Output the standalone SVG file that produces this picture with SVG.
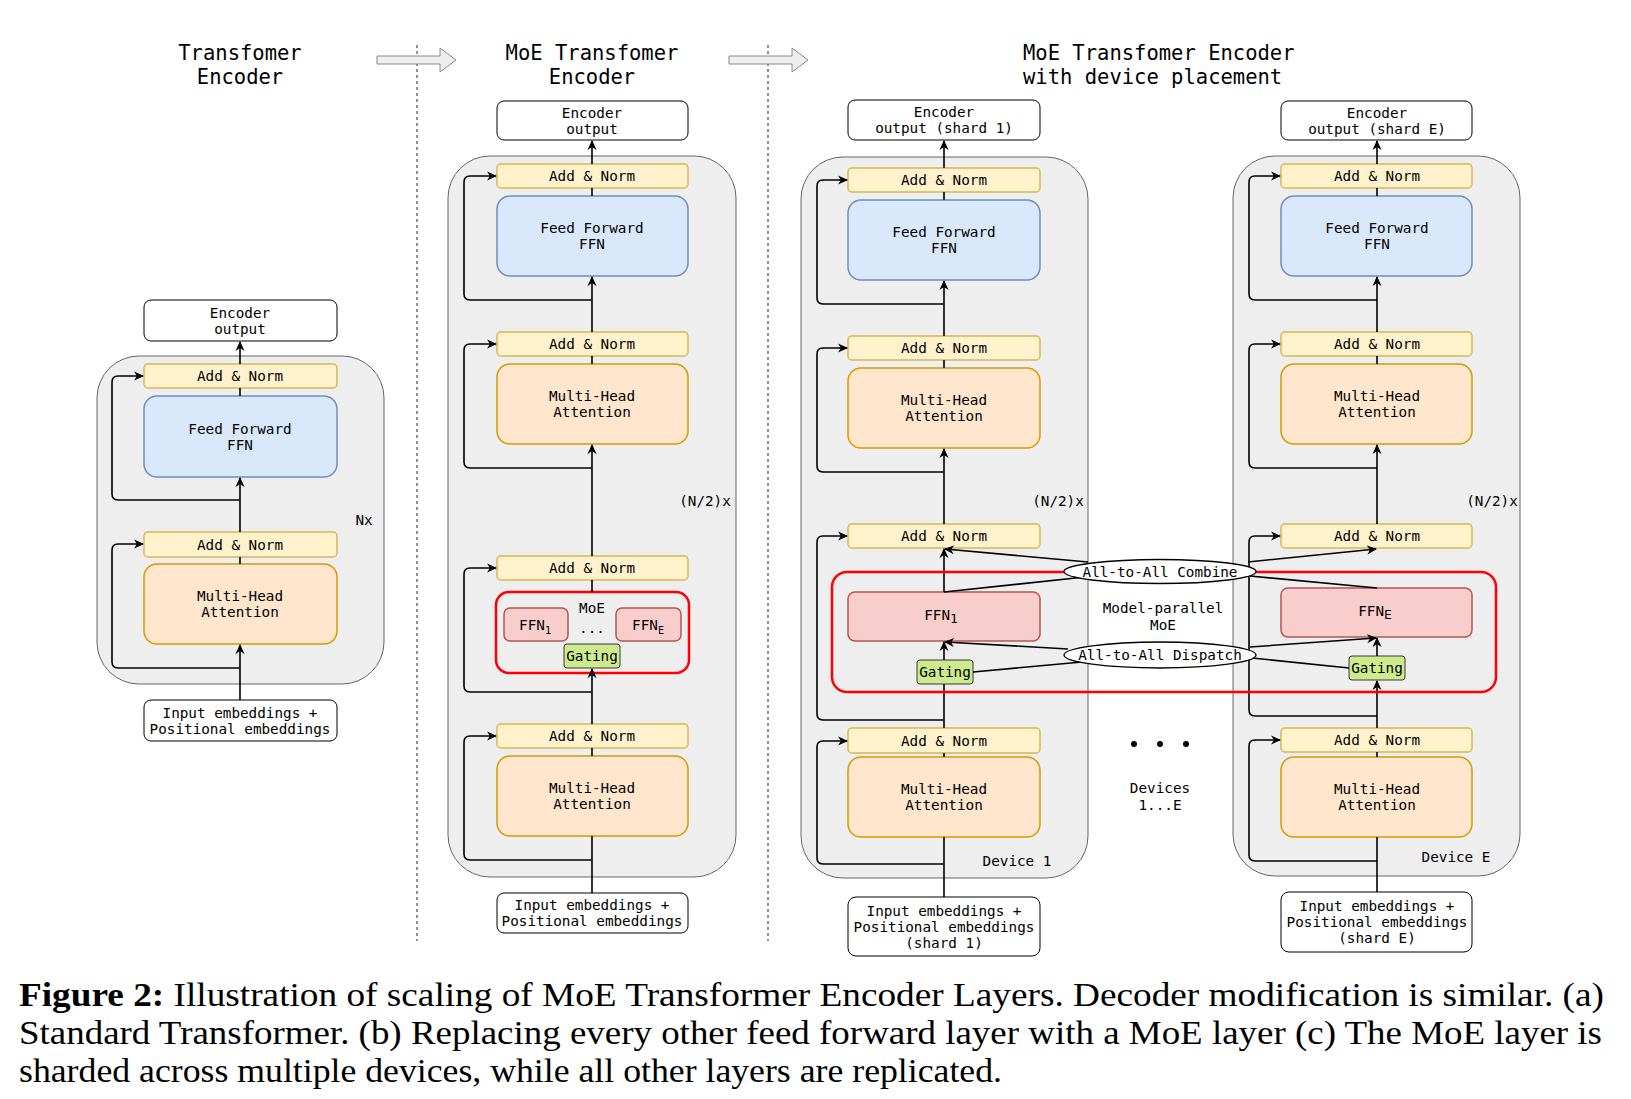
<svg xmlns="http://www.w3.org/2000/svg" width="1631" height="1099" viewBox="0 0 1631 1099">
<style>
text{font-family:"DejaVu Sans Mono","Liberation Mono",monospace;font-size:14.3px;fill:#000;text-anchor:middle}
.title{font-size:20.5px}
.ttl{font-size:20.5px;text-anchor:start}
.cont{fill:#eeeeee;stroke:#666;stroke-width:1}
.an{fill:#fff2cc;stroke:#d6b656;stroke-width:1.5}
.ffn{fill:#dae8fc;stroke:#6c8ebf;stroke-width:1.5}
.mha{fill:#ffe6cc;stroke:#d79b00;stroke-width:1.5}
.exp{fill:#f8cecc;stroke:#b85450;stroke-width:1.5}
.gate{fill:#cdeb8b;stroke:#36393d;stroke-width:1}
.io{fill:#fff;stroke:#000;stroke-width:1}
.moe{fill:none;stroke:#ff0000;stroke-width:2.5}
.ell{fill:#fff;stroke:#000;stroke-width:1.3}
.c{fill:none;stroke:#000;stroke-width:1.6}
.a{fill:none;stroke:#000;stroke-width:1.6;marker-end:url(#arr)}
.cap{font-family:"Liberation Serif","Times New Roman",serif;font-size:33px;text-anchor:start}
</style>
<defs>
<marker id="arr" viewBox="0 0 10 10" refX="9" refY="5" markerWidth="10" markerHeight="10" markerUnits="userSpaceOnUse" orient="auto">
<path d="M0,0.5 L10,5 L0,9.5 L3,5 z" fill="#000"/>
</marker>
</defs>

<!-- separators and block arrows -->
<g id="separators">
<line x1="417" y1="45" x2="417" y2="941" stroke="#222" stroke-width="1" stroke-dasharray="3,3"/>
<line x1="768" y1="45" x2="768" y2="941" stroke="#222" stroke-width="1" stroke-dasharray="3,3"/>
<path d="M377,56 H440 V48 L456,60 L440,72 V64 H377 Z" fill="#eeeeee" stroke="#888" stroke-width="1"/>
<path d="M729,56 H792 V48 L808,60 L792,72 V64 H729 Z" fill="#eeeeee" stroke="#888" stroke-width="1"/>
</g>

<!-- titles -->
<g id="titles">
<text class="title" x="240" y="60">Transfomer</text>
<text class="title" x="240" y="84">Encoder</text>
<text class="title" x="592" y="60">MoE Transfomer</text>
<text class="title" x="592" y="84">Encoder</text>
<text class="ttl" x="1023" y="60">MoE Transfomer Encoder</text>
<text class="ttl" x="1023" y="84">with device placement</text>
</g>

<!-- containers -->
<g id="containers">
<rect id="cont-a" class="cont" x="97" y="356" width="287" height="328" rx="42"/>
<rect id="cont-b" class="cont" x="448" y="156" width="288" height="721" rx="42"/>
<rect id="cont-d1" class="cont" x="801" y="157" width="287" height="721" rx="42"/>
<rect id="cont-dE" class="cont" x="1233" y="156" width="287" height="720" rx="42"/>
<text x="364" y="525">Nx</text>
<text x="705" y="506">(N/2)x</text>
<text x="1058" y="506">(N/2)x</text>
<text x="1492" y="506">(N/2)x</text>
<text x="1017" y="866">Device 1</text>
<text x="1456" y="862">Device E</text>
</g>

<!-- Column A: standard transformer -->
<g id="a-output"><rect class="io" x="144" y="300" width="193" height="41" rx="7"/><text x="240" y="317.5">Encoder</text><text x="240" y="333.5">output</text></g>
<g id="a-addnorm1"><rect class="an" x="144" y="364" width="193" height="24" rx="4"/><text x="240" y="381">Add &amp; Norm</text></g>
<g id="a-ffn"><rect class="ffn" x="144" y="396" width="193" height="81" rx="13"/><text x="240" y="433.5">Feed Forward</text><text x="240" y="449.5">FFN</text></g>
<g id="a-addnorm2"><rect class="an" x="144" y="532" width="193" height="25" rx="4"/><text x="240" y="549.5">Add &amp; Norm</text></g>
<g id="a-mha"><rect class="mha" x="144" y="564" width="193" height="80" rx="13"/><text x="240" y="601">Multi-Head</text><text x="240" y="617">Attention</text></g>
<g id="a-input"><rect class="io" x="144" y="700" width="193" height="41" rx="7"/><text x="240" y="717.5">Input embeddings +</text><text x="240" y="733.5">Positional embeddings</text></g>

<!-- Column B: MoE transformer -->
<g id="b-output"><rect class="io" x="497" y="101" width="191" height="39" rx="7"/><text x="592" y="117.5">Encoder</text><text x="592" y="133.5">output</text></g>
<g id="b-addnorm1"><rect class="an" x="497" y="164" width="191" height="24" rx="4"/><text x="592" y="181">Add &amp; Norm</text></g>
<g id="b-ffn"><rect class="ffn" x="497" y="196" width="191" height="80" rx="13"/><text x="592" y="233">Feed Forward</text><text x="592" y="249">FFN</text></g>
<g id="b-addnorm2"><rect class="an" x="497" y="332" width="191" height="24" rx="4"/><text x="592" y="349">Add &amp; Norm</text></g>
<g id="b-mha1"><rect class="mha" x="497" y="364" width="191" height="80" rx="13"/><text x="592" y="401">Multi-Head</text><text x="592" y="417">Attention</text></g>
<g id="b-addnorm3"><rect class="an" x="497" y="556" width="191" height="24" rx="4"/><text x="592" y="573">Add &amp; Norm</text></g>
<g id="b-moe">
<rect class="moe" x="496" y="592" width="193" height="81" rx="13"/>
<text x="592" y="613">MoE</text>
<text x="592" y="633">...</text>
</g>
<g id="b-ffn1"><rect class="exp" x="504" y="608" width="64" height="33" rx="6"/><text x="535" y="629.5">FFN<tspan font-size="10" dy="4">1</tspan></text></g>
<g id="b-ffnE"><rect class="exp" x="616" y="608" width="65" height="33" rx="6"/><text x="648" y="629.5">FFN<tspan font-size="10" dy="4">E</tspan></text></g>
<g id="b-gating"><rect class="gate" x="564" y="644" width="56" height="24" rx="3"/><text x="592" y="661">Gating</text></g>
<g id="b-addnorm4"><rect class="an" x="497" y="724" width="191" height="24" rx="4"/><text x="592" y="741">Add &amp; Norm</text></g>
<g id="b-mha2"><rect class="mha" x="497" y="756" width="191" height="80" rx="13"/><text x="592" y="793">Multi-Head</text><text x="592" y="809">Attention</text></g>
<g id="b-input"><rect class="io" x="497" y="893" width="191" height="40" rx="7"/><text x="592" y="910">Input embeddings +</text><text x="592" y="926">Positional embeddings</text></g>

<!-- Device 1 -->
<g id="d1-output"><rect class="io" x="848" y="100" width="192" height="40" rx="7"/><text x="944" y="117">Encoder</text><text x="944" y="133">output (shard 1)</text></g>
<g id="d1-addnorm1"><rect class="an" x="848" y="168" width="192" height="24" rx="4"/><text x="944" y="185">Add &amp; Norm</text></g>
<g id="d1-ffn"><rect class="ffn" x="848" y="200" width="192" height="80" rx="13"/><text x="944" y="237">Feed Forward</text><text x="944" y="253">FFN</text></g>
<g id="d1-addnorm2"><rect class="an" x="848" y="336" width="192" height="24" rx="4"/><text x="944" y="353">Add &amp; Norm</text></g>
<g id="d1-mha1"><rect class="mha" x="848" y="368" width="192" height="80" rx="13"/><text x="944" y="405">Multi-Head</text><text x="944" y="421">Attention</text></g>
<g id="d1-addnorm3"><rect class="an" x="848" y="524" width="192" height="24" rx="4"/><text x="944" y="541">Add &amp; Norm</text></g>
<g id="d1-ffn1"><rect class="exp" x="848" y="592" width="192" height="49" rx="7"/><text x="941" y="620">FFN<tspan font-size="13" dy="3">1</tspan></text></g>
<g id="d1-gating"><rect class="gate" x="917" y="660" width="56" height="24" rx="3"/><text x="945" y="677">Gating</text></g>
<g id="d1-addnorm4"><rect class="an" x="848" y="728" width="192" height="25" rx="4"/><text x="944" y="745.5">Add &amp; Norm</text></g>
<g id="d1-mha2"><rect class="mha" x="848" y="757" width="192" height="80" rx="13"/><text x="944" y="794">Multi-Head</text><text x="944" y="810">Attention</text></g>
<g id="d1-input"><rect class="io" x="848" y="897" width="192" height="59" rx="8"/><text x="944" y="915.5">Input embeddings +</text><text x="944" y="931.5">Positional embeddings</text><text x="944" y="947.5">(shard 1)</text></g>

<!-- Device E -->
<g id="dE-output"><rect class="io" x="1281" y="101" width="191" height="39" rx="7"/><text x="1377" y="117.5">Encoder</text><text x="1377" y="133.5">output (shard E)</text></g>
<g id="dE-addnorm1"><rect class="an" x="1281" y="164" width="191" height="24" rx="4"/><text x="1377" y="181">Add &amp; Norm</text></g>
<g id="dE-ffn"><rect class="ffn" x="1281" y="196" width="191" height="80" rx="13"/><text x="1377" y="233">Feed Forward</text><text x="1377" y="249">FFN</text></g>
<g id="dE-addnorm2"><rect class="an" x="1281" y="332" width="191" height="24" rx="4"/><text x="1377" y="349">Add &amp; Norm</text></g>
<g id="dE-mha1"><rect class="mha" x="1281" y="364" width="191" height="80" rx="13"/><text x="1377" y="401">Multi-Head</text><text x="1377" y="417">Attention</text></g>
<g id="dE-addnorm3"><rect class="an" x="1281" y="524" width="191" height="24" rx="4"/><text x="1377" y="541">Add &amp; Norm</text></g>
<g id="dE-ffnE"><rect class="exp" x="1281" y="588" width="191" height="49" rx="7"/><text x="1375" y="616">FFN<tspan font-size="13" dy="3">E</tspan></text></g>
<g id="dE-gating"><rect class="gate" x="1349" y="656" width="56" height="24" rx="3"/><text x="1377" y="673">Gating</text></g>
<g id="dE-addnorm4"><rect class="an" x="1281" y="728" width="191" height="24" rx="4"/><text x="1377" y="745">Add &amp; Norm</text></g>
<g id="dE-mha2"><rect class="mha" x="1281" y="757" width="191" height="80" rx="13"/><text x="1377" y="794">Multi-Head</text><text x="1377" y="810">Attention</text></g>
<g id="dE-input"><rect class="io" x="1281" y="892" width="191" height="60" rx="8"/><text x="1377" y="911">Input embeddings +</text><text x="1377" y="927">Positional embeddings</text><text x="1377" y="943">(shard E)</text></g>

<!-- connectors -->
<g id="connectors">
<!-- column A -->
<path class="a" d="M240,364 V342"/>
<path class="c" d="M240,388 V396"/>
<path class="a" d="M240,532 V478"/>
<path class="c" d="M240,557 V564"/>
<path class="a" d="M240,700 V645"/>
<path class="a" d="M240,500 H118 Q112,500 112,494 V382 Q112,376 118,376 H143"/>
<path class="a" d="M240,668 H118 Q112,668 112,662 V550 Q112,544 118,544 H143"/>
<!-- column B -->
<path class="a" d="M592,164 V141"/>
<path class="c" d="M592,188 V196"/>
<path class="a" d="M592,332 V277"/>
<path class="c" d="M592,356 V364"/>
<path class="a" d="M592,556 V445"/>
<path class="c" d="M592,580 V592"/>
<path class="a" d="M592,724 V669"/>
<path class="c" d="M592,748 V756"/>
<path class="c" d="M592,893 V836"/>
<path class="a" d="M592,300 H470 Q464,300 464,294 V182 Q464,176 470,176 H496"/>
<path class="a" d="M592,468 H470 Q464,468 464,462 V350 Q464,344 470,344 H496"/>
<path class="a" d="M592,692 H470 Q464,692 464,686 V574 Q464,568 470,568 H496"/>
<path class="a" d="M592,860 H470 Q464,860 464,854 V742 Q464,736 470,736 H496"/>
<!-- device 1 -->
<path class="a" d="M944,168 V141"/>
<path class="c" d="M944,192 V200"/>
<path class="a" d="M944,336 V281"/>
<path class="c" d="M944,360 V368"/>
<path class="a" d="M944,524 V449"/>
<path class="a" d="M944,592 V549"/>
<path class="a" d="M944,660 V642"/>
<path class="c" d="M944,728 V684"/>
<path class="c" d="M944,753 V757"/>
<path class="c" d="M944,897 V837"/>
<path class="a" d="M944,304 H823 Q817,304 817,298 V186 Q817,180 823,180 H847"/>
<path class="a" d="M944,472 H823 Q817,472 817,466 V354 Q817,348 823,348 H847"/>
<path class="a" d="M944,720 H823 Q817,720 817,714 V542 Q817,536 823,536 H847"/>
<path class="a" d="M944,864 H823 Q817,864 817,858 V747 Q817,741 823,741 H847"/>
<!-- device E -->
<path class="a" d="M1377,164 V141"/>
<path class="c" d="M1377,188 V196"/>
<path class="a" d="M1377,332 V277"/>
<path class="c" d="M1377,356 V364"/>
<path class="a" d="M1377,524 V445"/>
<path class="a" d="M1377,656 V638"/>
<path class="a" d="M1377,728 V681"/>
<path class="c" d="M1377,752 V757"/>
<path class="c" d="M1377,892 V837"/>
<path class="a" d="M1377,300 H1255 Q1249,300 1249,294 V182 Q1249,176 1255,176 H1280"/>
<path class="a" d="M1377,468 H1255 Q1249,468 1249,462 V350 Q1249,344 1255,344 H1280"/>
<path class="a" d="M1377,716 H1255 Q1249,716 1249,710 V542 Q1249,536 1255,536 H1280"/>
<path class="a" d="M1377,861 H1255 Q1249,861 1249,855 V746 Q1249,740 1255,740 H1280"/>
<!-- all-to-all -->
<path class="c" d="M944,592 L1085,577"/>
<path class="a" d="M1088,562 L945,549"/>
<path class="a" d="M1248,562 L1376,549"/>
<path class="c" d="M1250,576 L1377,588"/>
<path class="c" d="M973,672 L1082,662"/>
<path class="a" d="M1068,649 L945,642"/>
<path class="a" d="M1250,647 L1376,638"/>
<path class="c" d="M1252,658 L1349,668"/>
</g>

<!-- model-parallel MoE region -->
<g id="mp-moe">
<rect class="moe" x="832" y="572" width="664" height="120" rx="15"/>
<text x="1163" y="613">Model-parallel</text>
<text x="1163" y="630">MoE</text>
</g>
<g id="combine"><ellipse class="ell" cx="1160" cy="571.5" rx="96" ry="12"/><text x="1160" y="576.5">All-to-All Combine</text></g>
<g id="dispatch"><ellipse class="ell" cx="1160" cy="655" rx="96" ry="13"/><text x="1160" y="660">All-to-All Dispatch</text></g>

<g id="devices-note">
<circle cx="1134" cy="744" r="3"/>
<circle cx="1160" cy="744" r="3"/>
<circle cx="1186" cy="744" r="3"/>
<text x="1160" y="793">Devices</text>
<text x="1160" y="810">1...E</text>
</g>

<!-- caption -->
<g id="caption">
<text class="cap" x="19" y="1006" textLength="1585" lengthAdjust="spacingAndGlyphs"><tspan font-weight="bold">Figure 2:</tspan> Illustration of scaling of MoE Transformer Encoder Layers. Decoder modification is similar. (a)</text>
<text class="cap" x="19" y="1044" textLength="1583" lengthAdjust="spacingAndGlyphs">Standard Transformer. (b) Replacing every other feed forward layer with a MoE layer (c) The MoE layer is</text>
<text class="cap" x="19" y="1082" textLength="983" lengthAdjust="spacingAndGlyphs">sharded across multiple devices, while all other layers are replicated.</text>
</g>
</svg>
